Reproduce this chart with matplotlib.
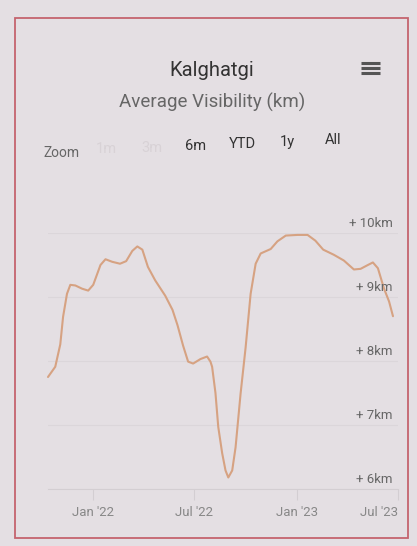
import matplotlib
matplotlib.use("Agg")
import matplotlib.pyplot as plt
import matplotlib.transforms as mtransforms
from matplotlib.patches import Rectangle
import pandas as pd

plt.rcParams['font.family'] = ['Roboto', 'DejaVu Sans']

title = "Kalghatgi"
subtitle = "Average Visibility (km)"
zoom_label = "Zoom"
zoom_buttons = ["1m", "3m", "6m", "YTD", "1y", "All"]
zoom_enabled = [False, False, True, True, True, True]

dates = ["2021-10-12", "2021-10-25", "2021-11-03", "2021-11-08", "2021-11-15",
         "2021-11-21", "2021-11-30", "2021-12-12", "2021-12-23", "2022-01-01",
         "2022-01-14", "2022-01-23", "2022-02-04", "2022-02-18", "2022-03-01",
         "2022-03-12", "2022-03-21", "2022-03-30", "2022-04-09", "2022-04-22",
         "2022-05-10", "2022-05-23", "2022-06-01", "2022-06-11", "2022-06-20",
         "2022-06-29", "2022-07-12", "2022-07-24", "2022-07-30", "2022-08-02",
         "2022-08-08", "2022-08-13", "2022-08-20", "2022-08-26", "2022-08-31",
         "2022-09-07", "2022-09-13", "2022-09-22", "2022-10-01", "2022-10-10",
         "2022-10-19", "2022-10-28", "2022-11-15", "2022-11-27", "2022-12-12",
         "2023-01-02", "2023-01-20", "2023-02-03", "2023-02-17", "2023-03-08",
         "2023-03-26", "2023-04-13", "2023-04-25", "2023-05-08", "2023-05-17",
         "2023-05-26", "2023-06-06", "2023-06-15", "2023-06-22"]
visibility = [7.75, 7.91, 8.26, 8.69, 9.05,
              9.19, 9.18, 9.13, 9.10, 9.19,
              9.50, 9.59, 9.55, 9.52, 9.56,
              9.72, 9.79, 9.74, 9.47, 9.26,
              9.02, 8.80, 8.56, 8.24, 7.99,
              7.96, 8.03, 8.07, 7.99, 7.91,
              7.50, 6.97, 6.56, 6.29, 6.18,
              6.29, 6.65, 7.49, 8.21, 9.05,
              9.52, 9.68, 9.75, 9.87, 9.96,
              9.97, 9.97, 9.88, 9.74, 9.66,
              9.57, 9.43, 9.44, 9.50, 9.54,
              9.45, 9.13, 8.93, 8.70]

y_ticks = [6, 7, 8, 9, 10]
y_tick_labels = ["+ 6km", "+ 7km", "+ 8km", "+ 9km", "+ 10km"]
x_ticks = ["2022-01-01", "2022-07-01", "2023-01-01", "2023-07-01"]
x_tick_labels = ["Jan '22", "Jul '22", "Jan '23", "Jul '23"]

W, H = 417, 546
bg = "#e4dfe3"
fig = plt.figure(figsize=(W / 100, H / 100), dpi=100, facecolor=bg)

def fx(px):
    return px / W

def fy(py):
    return 1 - py / H

# frame border
fig.patches.append(Rectangle((fx(15), fy(538)), fx(408) - fx(15), fy(18) - fy(538),
                             transform=fig.transFigure, fill=False,
                             edgecolor="#c4646e", linewidth=1.3, zorder=0))

fig.text(fx(212), fy(71), title, ha="center", va="center", fontsize=14.5, color="#333333")
fig.text(fx(212), fy(102), subtitle, ha="center", va="center", fontsize=13.5, color="#666666")

# hamburger icon
for dy in (-5, 0, 5):
    fig.lines.append(plt.Line2D([fx(361), fx(380)], [fy(68 + dy), fy(68 + dy)],
                                transform=fig.transFigure, color="#555555", linewidth=2.2,
                                solid_capstyle="butt"))

fig.text(fx(62), fy(153), zoom_label, ha="center", va="center", fontsize=10, color="#666666")
btn_x = [106, 152, 196, 242, 287, 333]
btn_y = [149, 148, 146, 144, 142, 140]
for lbl, bx, by, en in zip(zoom_buttons, btn_x, btn_y, zoom_enabled):
    fig.text(fx(bx), fy(by), lbl, ha="center", va="center", fontsize=10.5,
             color="#333333" if en else "#d8d2d6")

ax = fig.add_axes([fx(48), fy(489), fx(398) - fx(48), fy(233) - fy(489)])
ax.set_facecolor(bg)
d = pd.to_datetime(dates)
ax.plot(d, visibility, color="#d6a282", linewidth=1.5, solid_joinstyle="round",
        solid_capstyle="round", zorder=3, clip_on=False)

ax.set_ylim(6, 10)
ax.set_xlim(pd.Timestamp("2021-10-12"), pd.Timestamp("2023-07-01"))
ax.set_yticks(y_ticks)
ax.set_yticklabels([])
ax.tick_params(axis="y", length=0)
ax.grid(axis="y", color="#dbd6da", linewidth=0.8)
ax.set_axisbelow(True)

trans = mtransforms.blended_transform_factory(ax.transAxes, ax.transData)
for v, lbl in zip(y_ticks, y_tick_labels):
    t = ax.text(0.985, v, lbl, transform=trans, ha="right", va="bottom", fontsize=9.5,
                color="#666666")
    t.set_transform(trans + mtransforms.ScaledTranslation(0, 3 / 100, fig.dpi_scale_trans))

ax.set_xticks(pd.to_datetime(x_ticks))
ax.set_xticklabels(x_tick_labels)
ax.tick_params(axis="x", length=8, width=0.8, color="#d3ced2", labelsize=9.5,
               labelcolor="#888888", pad=4)
last = ax.get_xticklabels()[-1]
last.set_horizontalalignment("right")
for s in ("top", "left", "right"):
    ax.spines[s].set_visible(False)
ax.spines["bottom"].set_color("#d3ced2")
ax.spines["bottom"].set_linewidth(0.8)

fig.savefig("out.png", dpi=100, facecolor=bg)
